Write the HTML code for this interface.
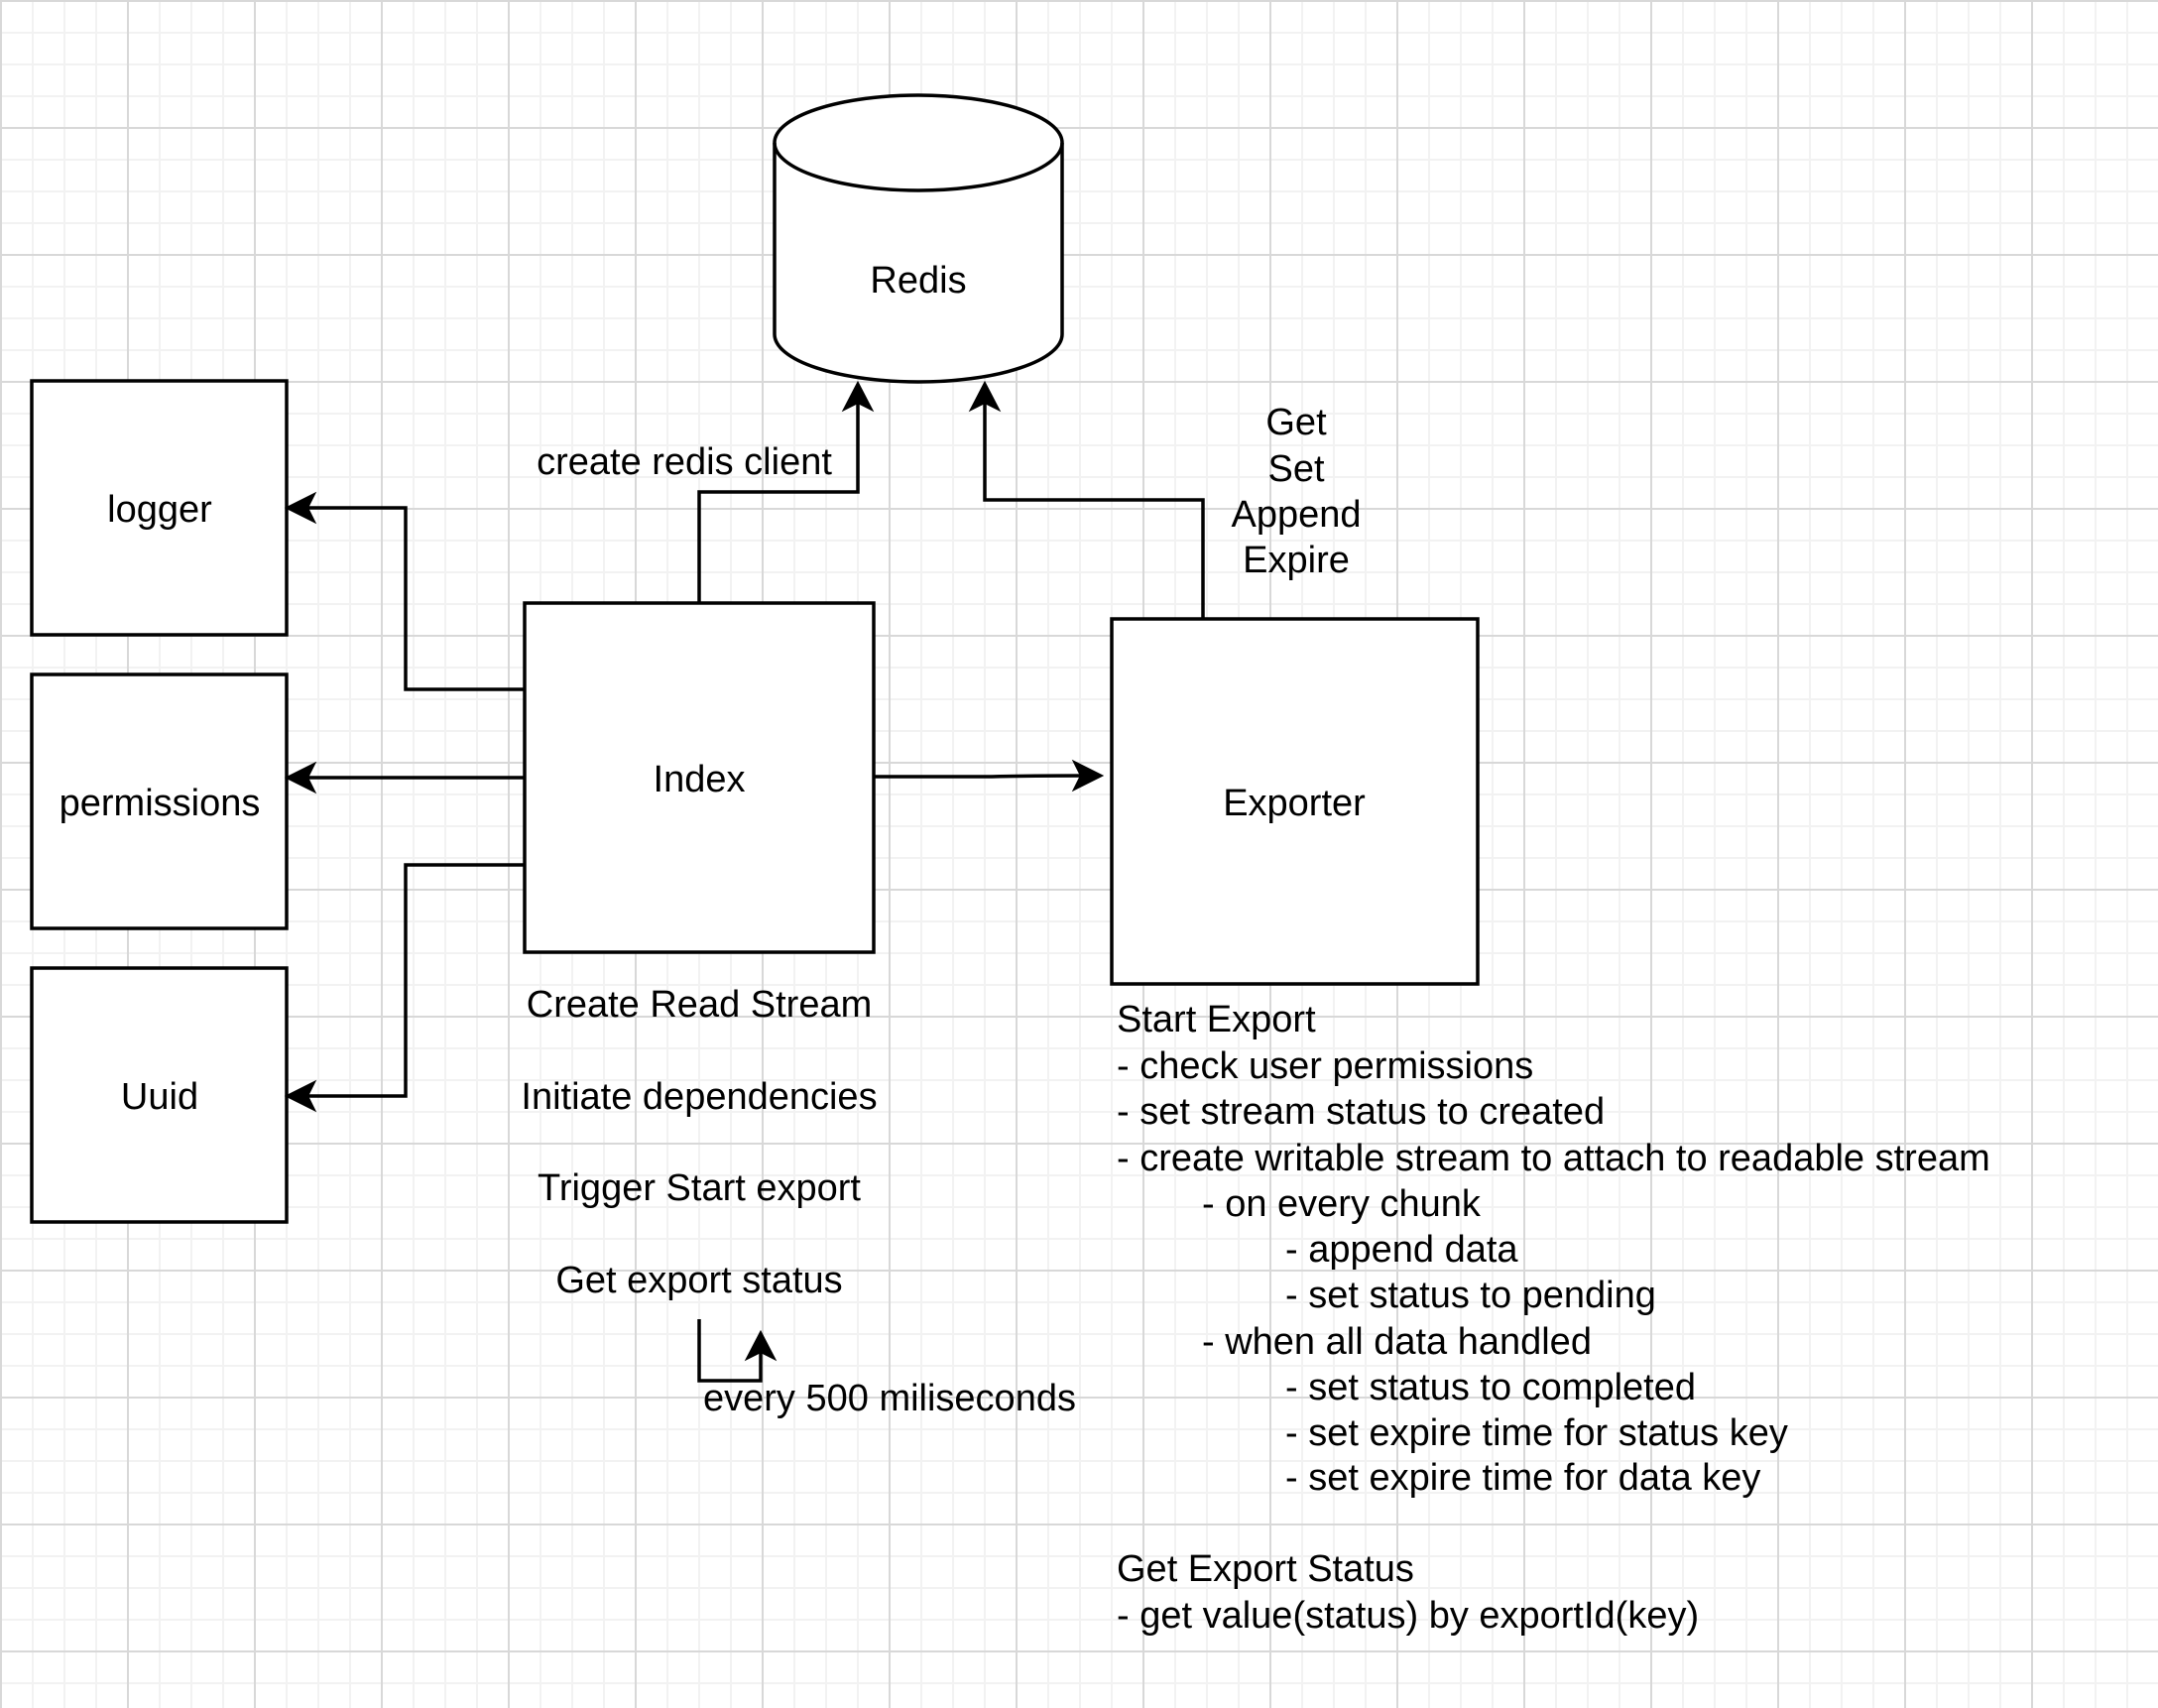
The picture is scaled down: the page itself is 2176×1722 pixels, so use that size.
<!DOCTYPE html>
<html><head><meta charset="utf-8"><style>
html,body{margin:0;padding:0;background:#fff;}
body{width:2176px;height:1722px;overflow:hidden;
background-image:
linear-gradient(to right,#d8d8d8 2px,transparent 2px),
linear-gradient(to bottom,#d8d8d8 2px,transparent 2px),
linear-gradient(to right,#f2f2f2 2px,transparent 2px),
linear-gradient(to bottom,#f2f2f2 2px,transparent 2px);
background-size:128px 128px,128px 128px,32px 32px,32px 32px;
background-position:0 0,0 0,0 0,0 0;}
svg{position:absolute;left:0;top:0;}
text{font-family:"Liberation Sans",Arial,sans-serif;font-size:38px;fill:#000;}
</style></head><body>
<svg width="2176" height="1722" viewBox="0 0 2176 1722">
<g fill="#fff" stroke="#000" stroke-width="3.5">
<rect x="32" y="384" width="257" height="256"/>
<rect x="32" y="680" width="257" height="256"/>
<rect x="32" y="976" width="257" height="256"/>
<rect x="529" y="608" width="352" height="352"/>
<rect x="1121" y="624" width="369" height="368"/>
<path d="M781,144 L781,337 A145,48 0 0 0 1071,337 L1071,144 A145,48 0 0 0 781,144 Z"/>
<path d="M781,144 A145,48 0 0 0 1071,144" fill="none"/>
</g>
<g fill="none" stroke="#000" stroke-width="3.5">
<path d="M529,695 H409 V512 H300"/>
<path d="M529,784 H300"/>
<path d="M529,872 H409 V1105 H300"/>
<path d="M881,783 H1000 Q1040,782 1100,782"/>
<path d="M705,608 V496 H865 V398"/>
<path d="M1213,624 V504 H993 V398"/>
<path d="M705,1330 V1392 H767 V1355"/>
</g>
<g fill="#000" stroke="#000" stroke-width="2">
<path d="M289,512 L317,498 L310,512 L317,526 Z"/>
<path d="M289,784 L317,770 L310,784 L317,798 Z"/>
<path d="M289,1105 L317,1091 L310,1105 L317,1119 Z"/>
<path d="M1111,782 L1083,768 L1090,782 L1083,796 Z"/>
<path d="M865,386 L851,413 L865,406 L879,413 Z"/>
<path d="M993,386 L979,413 L993,406 L1007,413 Z"/>
<path d="M767,1343 L753,1370 L767,1363 L781,1370 Z"/>
</g>
<g text-anchor="middle" dominant-baseline="central">
<text x="926" y="283">Redis</text>
<text x="161" y="514">logger</text>
<text x="161" y="810">permissions</text>
<text x="161" y="1106">Uuid</text>
<text x="705" y="786">Index</text>
<text x="1305" y="810">Exporter</text>
<text x="690" y="466">create redis client</text>
<text x="1307" y="426">Get</text>
<text x="1307" y="473">Set</text>
<text x="1307" y="519">Append</text>
<text x="1307" y="565">Expire</text>
<text x="705" y="1013">Create Read Stream</text>
<text x="705" y="1106">Initiate dependencies</text>
<text x="705" y="1198">Trigger Start export</text>
<text x="705" y="1291">Get export status</text>
</g>
<g dominant-baseline="central">
<text x="709" y="1410">every 500 miliseconds</text>
<text x="1126" y="1028">Start Export</text>
<text x="1126" y="1075">- check user permissions</text>
<text x="1126" y="1121">- set stream status to created</text>
<text x="1126" y="1168">- create writable stream to attach to readable stream</text>
<text x="1212" y="1214">- on every chunk</text>
<text x="1296" y="1260">- append data</text>
<text x="1296" y="1306">- set status to pending</text>
<text x="1212" y="1353">- when all data handled</text>
<text x="1296" y="1399">- set status to completed</text>
<text x="1296" y="1445">- set expire time for status key</text>
<text x="1296" y="1490">- set expire time for data key</text>
<text x="1126" y="1582">Get Export Status</text>
<text x="1126" y="1629">- get value(status) by exportId(key)</text>
</g>
</svg>
</body></html>
